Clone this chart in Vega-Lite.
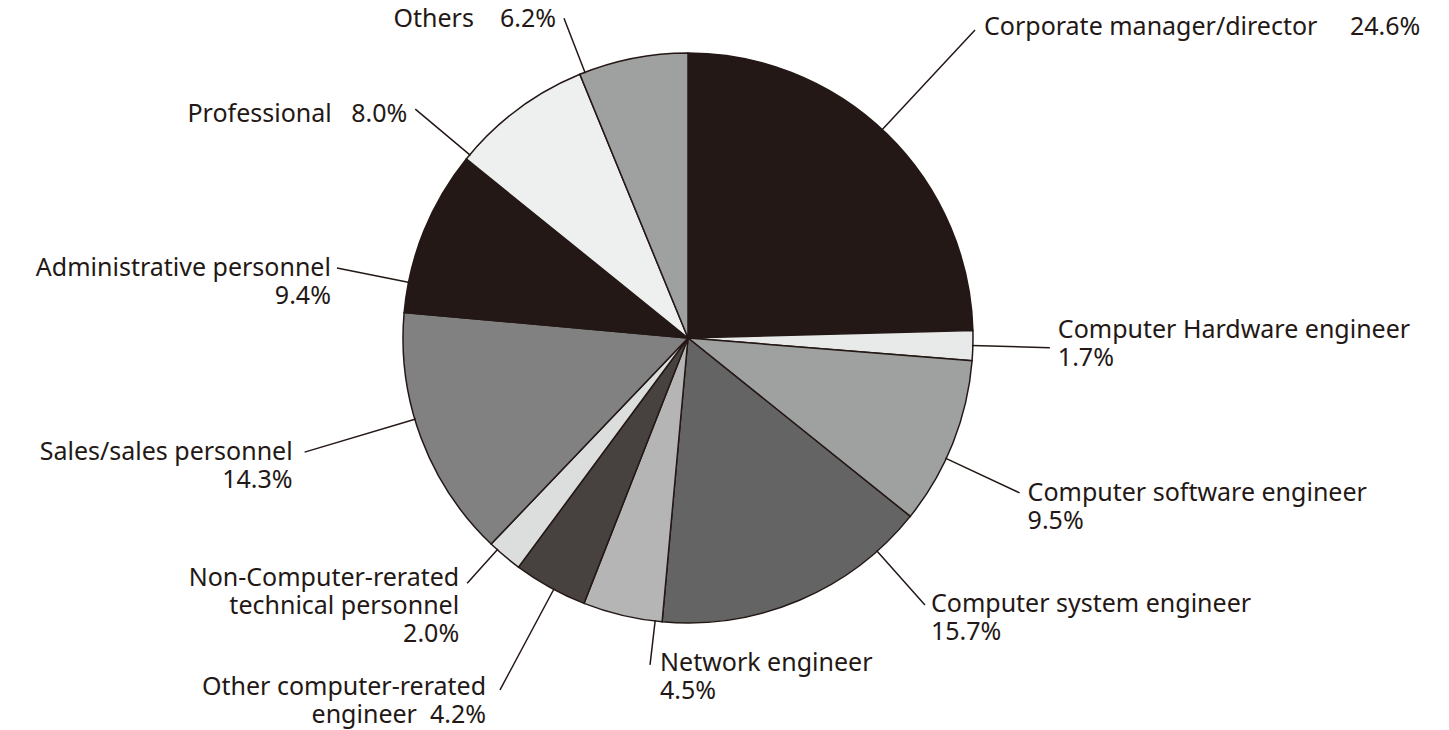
{
  "$schema": "https://vega.github.io/schema/vega-lite/v6.json",
  "width": 1376,
  "height": 676,
  "autosize": {"type": "none"},
  "padding": {"left": 0, "top": 0, "right": 73, "bottom": 54},
  "background": "white",
  "config": {
    "view": {"stroke": null},
    "text": {"font": "Noto Sans", "fontSize": 25, "lineHeight": 28, "color": "#231815", "lineBreak": "\n"}
  },
  "data": {
    "values": [
      {"idx": 1, "cat": "Corporate manager/director", "pct": 24.6, "label": "Corporate manager/director\u00a0\u00a0\u00a0\u00a0\u00a024.6%"},
      {"idx": 2, "cat": "Computer Hardware engineer", "pct": 1.7, "label": "Computer Hardware engineer\n1.7%"},
      {"idx": 3, "cat": "Computer software engineer", "pct": 9.5, "label": "Computer software engineer\n9.5%"},
      {"idx": 4, "cat": "Computer system engineer", "pct": 15.7, "label": "Computer system engineer\n15.7%"},
      {"idx": 5, "cat": "Network engineer", "pct": 4.5, "label": "Network engineer\n4.5%"},
      {"idx": 6, "cat": "Other computer-rerated engineer", "pct": 4.2, "label": "Other computer-rerated\nengineer\u00a0\u00a04.2%"},
      {"idx": 7, "cat": "Non-Computer-rerated technical personnel", "pct": 2.0, "label": "Non-Computer-rerated\ntechnical personnel\n2.0%"},
      {"idx": 8, "cat": "Sales/sales personnel", "pct": 14.3, "label": "Sales/sales personnel\n14.3%"},
      {"idx": 9, "cat": "Administrative personnel", "pct": 9.4, "label": "Administrative personnel\n9.4%"},
      {"idx": 10, "cat": "Professional", "pct": 8.0, "label": "Professional\u00a0\u00a0\u00a08.0%"},
      {"idx": 11, "cat": "Others", "pct": 6.2, "label": "Others\u00a0\u00a0\u00a0\u00a06.2%"}
    ]
  },
  "encoding": {
    "theta": {"field": "pct", "type": "quantitative", "stack": true},
    "order": {"field": "idx", "type": "quantitative"},
    "detail": {"field": "cat", "type": "nominal"}
  },
  "layer": [
    {
      "mark": {"type": "arc", "outerRadius": 285, "stroke": "#231815", "strokeWidth": 1.5},
      "encoding": {
        "color": {
          "field": "cat", "type": "nominal", "legend": null,
          "scale": {
            "domain": ["Corporate manager/director", "Computer Hardware engineer", "Computer software engineer", "Computer system engineer", "Network engineer", "Other computer-rerated engineer", "Non-Computer-rerated technical personnel", "Sales/sales personnel", "Administrative personnel", "Professional", "Others"],
            "range": ["#231815", "#e8e9e9", "#9fa0a0", "#656464", "#b5b5b6", "#474240", "#dcdddd", "#818181", "#231815", "#eeefef", "#9fa0a0"]
          }
        }
      }
    },
    {"mark": {"type": "arc", "innerRadius": 284, "outerRadius": 421, "padAngle": 3, "thetaOffset": -0.0219, "theta2Offset": -0.0219, "fillOpacity": 0, "stroke": "#231815", "strokeWidth": 1.5},
     "encoding": {"strokeOpacity": {"condition": {"test": "datum.idx === 1", "value": 1}, "value": 0}}},
    {"mark": {"type": "text", "radius": 421, "thetaOffset": -0.0219, "align": "left", "baseline": "middle", "dx": 9, "dy": -3},
     "encoding": {"text": {"condition": {"test": "datum.idx === 1", "field": "label", "type": "nominal"}, "value": ""}}},

    {"mark": {"type": "arc", "innerRadius": 284, "outerRadius": 362, "padAngle": 3, "thetaOffset": 0, "theta2Offset": 0, "fillOpacity": 0, "stroke": "#231815", "strokeWidth": 1.5},
     "encoding": {"strokeOpacity": {"condition": {"test": "datum.idx === 2", "value": 1}, "value": 0}}},
    {"mark": {"type": "text", "radius": 362, "thetaOffset": 0, "align": "left", "baseline": "middle", "dx": 8, "dy": -18},
     "encoding": {"text": {"condition": {"test": "datum.idx === 2", "field": "label", "type": "nominal"}, "value": ""}}},

    {"mark": {"type": "arc", "innerRadius": 284, "outerRadius": 366, "padAngle": 3, "thetaOffset": 0.0587, "theta2Offset": 0.0587, "fillOpacity": 0, "stroke": "#231815", "strokeWidth": 1.5},
     "encoding": {"strokeOpacity": {"condition": {"test": "datum.idx === 3", "value": 1}, "value": 0}}},
    {"mark": {"type": "text", "radius": 366, "thetaOffset": 0.0587, "align": "left", "baseline": "middle", "dx": 8, "dy": 0},
     "encoding": {"text": {"condition": {"test": "datum.idx === 3", "field": "label", "type": "nominal"}, "value": ""}}},

    {"mark": {"type": "arc", "innerRadius": 284, "outerRadius": 357, "padAngle": 3, "thetaOffset": -0.3241, "theta2Offset": -0.3241, "fillOpacity": 0, "stroke": "#231815", "strokeWidth": 1.5},
     "encoding": {"strokeOpacity": {"condition": {"test": "datum.idx === 4", "value": 1}, "value": 0}}},
    {"mark": {"type": "text", "radius": 357, "thetaOffset": -0.3241, "align": "left", "baseline": "middle", "dx": 6, "dy": -1},
     "encoding": {"text": {"condition": {"test": "datum.idx === 4", "field": "label", "type": "nominal"}, "value": ""}}},

    {"mark": {"type": "arc", "innerRadius": 284, "outerRadius": 329, "padAngle": 3, "thetaOffset": -0.1166, "theta2Offset": -0.1166, "fillOpacity": 0, "stroke": "#231815", "strokeWidth": 1.5},
     "encoding": {"strokeOpacity": {"condition": {"test": "datum.idx === 5", "value": 1}, "value": 0}}},
    {"mark": {"type": "text", "radius": 329, "thetaOffset": -0.1166, "align": "left", "baseline": "middle", "dx": 10, "dy": -2},
     "encoding": {"text": {"condition": {"test": "datum.idx === 5", "field": "label", "type": "nominal"}, "value": ""}}},

    {"mark": {"type": "arc", "innerRadius": 284, "outerRadius": 399, "padAngle": 3, "thetaOffset": -0.0147, "theta2Offset": -0.0147, "fillOpacity": 0, "stroke": "#231815", "strokeWidth": 1.5},
     "encoding": {"strokeOpacity": {"condition": {"test": "datum.idx === 6", "value": 1}, "value": 0}}},
    {"mark": {"type": "text", "radius": 399, "thetaOffset": -0.0147, "align": "right", "baseline": "middle", "dx": -14, "dy": -3},
     "encoding": {"text": {"condition": {"test": "datum.idx === 6", "field": "label", "type": "nominal"}, "value": ""}}},

    {"mark": {"type": "arc", "innerRadius": 284, "outerRadius": 330, "padAngle": 3, "thetaOffset": 0.0332, "theta2Offset": 0.0332, "fillOpacity": 0, "stroke": "#231815", "strokeWidth": 1.5},
     "encoding": {"strokeOpacity": {"condition": {"test": "datum.idx === 7", "value": 1}, "value": 0}}},
    {"mark": {"type": "text", "radius": 330, "thetaOffset": 0.0332, "align": "right", "baseline": "middle", "dx": -8, "dy": -5},
     "encoding": {"text": {"condition": {"test": "datum.idx === 7", "field": "label", "type": "nominal"}, "value": ""}}},

    {"mark": {"type": "arc", "innerRadius": 284, "outerRadius": 400, "padAngle": 3, "thetaOffset": 0.0700, "theta2Offset": 0.0700, "fillOpacity": 0, "stroke": "#231815", "strokeWidth": 1.5},
     "encoding": {"strokeOpacity": {"condition": {"test": "datum.idx === 8", "value": 1}, "value": 0}}},
    {"mark": {"type": "text", "radius": 400, "thetaOffset": 0.0700, "align": "right", "baseline": "middle", "dx": -12, "dy": 0},
     "encoding": {"text": {"condition": {"test": "datum.idx === 8", "field": "label", "type": "nominal"}, "value": ""}}},

    {"mark": {"type": "arc", "innerRadius": 284, "outerRadius": 358, "padAngle": 3, "thetaOffset": -0.1876, "theta2Offset": -0.1876, "fillOpacity": 0, "stroke": "#231815", "strokeWidth": 1.5},
     "encoding": {"strokeOpacity": {"condition": {"test": "datum.idx === 9", "value": 1}, "value": 0}}},
    {"mark": {"type": "text", "radius": 358, "thetaOffset": -0.1876, "align": "right", "baseline": "middle", "dx": -6, "dy": 0},
     "encoding": {"text": {"condition": {"test": "datum.idx === 9", "field": "label", "type": "nominal"}, "value": ""}}},

    {"mark": {"type": "arc", "innerRadius": 284, "outerRadius": 356, "padAngle": 3, "thetaOffset": -0.2324, "theta2Offset": -0.2324, "fillOpacity": 0, "stroke": "#231815", "strokeWidth": 1.5},
     "encoding": {"strokeOpacity": {"condition": {"test": "datum.idx === 10", "value": 1}, "value": 0}}},
    {"mark": {"type": "text", "radius": 356, "thetaOffset": -0.2324, "align": "right", "baseline": "middle", "dx": -8, "dy": 5},
     "encoding": {"text": {"condition": {"test": "datum.idx === 10", "field": "label", "type": "nominal"}, "value": ""}}},

    {"mark": {"type": "arc", "innerRadius": 284, "outerRadius": 343, "padAngle": 3, "thetaOffset": -0.1754, "theta2Offset": -0.1754, "fillOpacity": 0, "stroke": "#231815", "strokeWidth": 1.5},
     "encoding": {"strokeOpacity": {"condition": {"test": "datum.idx === 11", "value": 1}, "value": 0}}},
    {"mark": {"type": "text", "radius": 343, "thetaOffset": -0.1754, "align": "right", "baseline": "middle", "dx": -8, "dy": 1},
     "encoding": {"text": {"condition": {"test": "datum.idx === 11", "field": "label", "type": "nominal"}, "value": ""}}}
  ]
}
